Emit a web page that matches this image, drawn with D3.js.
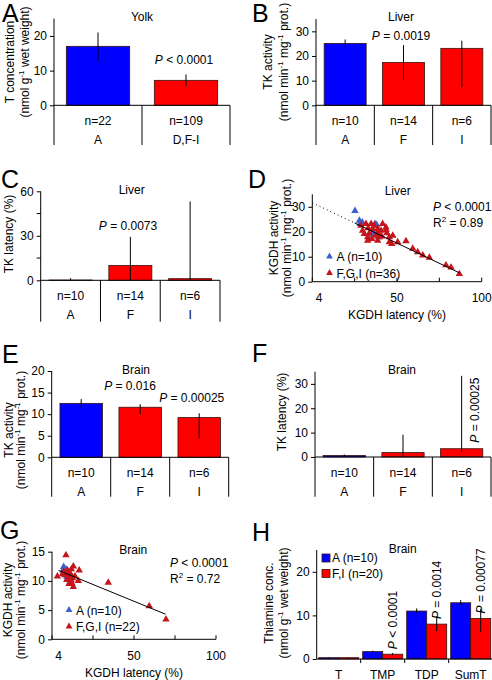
<!DOCTYPE html>
<html><head><meta charset="utf-8">
<script src="https://cdn.jsdelivr.net/npm/d3@7"></script>
<style>body{margin:0;background:#fff}svg{display:block}text{font-family:"Liberation Sans",Arial,sans-serif;fill:#000}</style>
</head><body>
<script>
// ---------- DATA ----------
// A: Yolk thiamine
const yolkCats = ["A", "D,F-I"];
const yolkN = ["n=22", "n=109"];
const yolkMean = [17.0, 7.2];
const yolkLo = [12.8, 5.6];
const yolkHi = [21.0, 8.9];
const yolkTicks = [0, 10, 20];

// B: Liver TK activity
const tkCats = ["A", "F", "I"];
const tkN = ["n=10", "n=14", "n=6"];
const liverTkMean = [25.1, 17.4, 23.1];
const liverTkLo = [23.5, 10.2, 7.3];
const liverTkHi = [26.7, 24.4, 26.2];
const liverTkTicks = [0, 10, 20, 30];

// C: Liver TK latency
const liverLatMean = [0.2, 10.0, 1.1];
const liverLatLo = [0, 0, 0];
const liverLatHi = [1.4, 29.3, 53.2];
const liverLatTicks = [0, 30, 60];
const liverLatMinor = [15, 45];

// D: Liver KGDH activity vs latency
const liverA = [[25.2,28.4],[27.8,24.5],[28.2,23.2],[29.5,23.8],[37,23.2],[38,22.8],[36,19.8],[39,17.9],[38,19.2],[35,19.0]];
const liverFGI = [[28.7,22.5],[31.7,23.2],[29.7,20.5],[34.7,23.2],[35.6,21.2],[32.7,17.9],[35.2,17.2],[37.6,18.5],[38.6,19.8],[41.5,23.2],[43.5,21.8],[40.6,20.5],[39.6,17.9],[43.5,20.8],[45.5,17.9],[47.5,18.5],[45.5,15.9],[46.9,15.2],[50.4,15.9],[55.3,16.3],[59.3,13.3],[62.2,11.9],[65.2,10.6],[69.1,9.7],[78.9,6.6],[81.9,5.7],[86.8,3.1],[30.7,19.2],[36.6,22.5],[38.6,21.2],[33.6,19.4],[38.6,16.5],[32.7,16.5],[44,19.5],[33,21.5],[41,18.2]];
const liverFit = [31.6, -0.323];          // intercept, slope
const liverFitX = [0, 25, 87];            // dotted from, solid from, to
const liverYTicks = [0, 10, 20, 30];

// E: Brain TK activity
const brainTkMean = [12.5, 11.6, 9.2];
const brainTkLo = [11.5, 10.0, 4.4];
const brainTkHi = [13.5, 12.3, 10.2];
const brainTkTicks = [0, 5, 10, 15, 20];

// F: Brain TK latency
const brainLatMean = [0.6, 1.8, 3.4];
const brainLatLo = [0.3, 0, 2.0];
const brainLatHi = [1.0, 9.2, 33.3];
const brainLatTicks = [0, 10, 20, 30];

// G: Brain KGDH activity vs latency
const brainA = [[7.1,12.4],[6.7,11.8],[8.1,11.4],[9.1,10.7],[10.1,10.2],[11.1,9.8],[8.5,12.0],[9.5,11.0],[7.5,11.1],[10.5,10.6]];
const brainFGI = [[8.5,14.4],[3.3,10.8],[13,12.5],[16.6,11.8],[16,10.0],[13,9.0],[34.3,9.7],[59.3,5.7],[69.5,3.4],[7.1,11.6],[8.1,11.0],[10.1,10.7],[11.1,11.3],[11.5,10.2],[11.8,12.0],[10.4,9.5],[12.5,10.5],[9.5,11.8],[14,10.8],[6.5,11.2],[12.2,9.6],[9,10.2]];
const brainFit = [12.26, -0.115];
const brainFitX = [4, 69.3];
const brainYTicks = [0, 5, 10, 15];

const latTickMarks = [0, 25, 50, 75, 100];
const latTickLabels = [4, 50, 100];

// H: Brain thiamine
const thCats = ["T", "TMP", "TDP", "SumT"];
const thA = [0.3, 1.7, 11.0, 12.9];
const thALo = [0.25, 1.55, 10.5, 12.4];
const thAHi = [0.35, 1.9, 11.6, 13.5];
const thFI = [0.3, 1.1, 8.0, 9.3];
const thFILo = [0.25, 0.8, 6.4, 6.2];
const thFIHi = [0.35, 1.4, 9.8, 11.5];
const thP = ["", "< 0.0001", "= 0.0014", "= 0.00077"];
const thTicks = [0, 10, 20];

// ---------- STYLE ----------
const BLUE = "#0000ff", RED = "#ff0000";
const TRI_BLUE = "#3a5fd0", TRI_RED = "#c4141c";
const FS = 12;

const svg = d3.select("body").append("svg").attr("width", 492).attr("height", 680);

function txt(g, x, y, s, opts = {}) {
  const t = g.append("text").attr("x", x).attr("y", y).attr("font-size", opts.size || FS)
    .attr("text-anchor", opts.anchor || "middle");
  if (opts.rot) t.attr("transform", `rotate(-90,${x},${y})`);
  return t.text(s);
}
// text with italic P
function ptext(g, x, y, rest, opts = {}) {
  const t = g.append("text").attr("x", x).attr("y", y).attr("font-size", FS)
    .attr("text-anchor", opts.anchor || "middle");
  if (opts.rot) t.attr("transform", `rotate(-90,${x},${y})`);
  t.append("tspan").attr("font-style", "italic").text("P");
  t.append("tspan").text(" " + rest);
  return t;
}
// rotated y-label with superscripts: parts = [[text, sup?],...]
function richText(g, x, y, parts, rot) {
  const t = g.append("text").attr("x", x).attr("y", y).attr("font-size", FS).attr("text-anchor", "middle");
  if (rot) t.attr("transform", `rotate(-90,${x},${y})`);
  let up = false;
  parts.forEach(p => {
    const sp = t.append("tspan").text(p[0]);
    if (p[1]) { sp.attr("font-size", 8).attr("dy", -5); up = true; }
    else if (up) { sp.attr("dy", 5); up = false; }
  });
  return t;
}
function letter(x, y, s) {
  svg.append("text").attr("x", x).attr("y", y).attr("font-size", 25).text(s);
}

function yAxis(g, y, x0, ticks, yEnd) {
  const ax = d3.axisLeft(y).tickValues(ticks).tickSize(4).tickPadding(3).tickFormat(d3.format("d"));
  const ag = g.append("g").attr("transform", `translate(${x0},0)`).call(ax);
  ag.select(".domain").remove();
  ag.selectAll("text").attr("font-size", FS).attr("font-family", "Liberation Sans, Arial, sans-serif");
  ag.selectAll("line").attr("stroke", "#000");
  g.append("line").attr("x1", x0).attr("x2", x0).attr("y1", y.range()[1]).attr("y2", yEnd).attr("stroke", "#000");
}

function barPanel(c) {
  const g = svg.append("g");
  const y = d3.scaleLinear().domain([0, c.max]).range([c.yBase, c.yTop]);
  const x = d3.scaleBand().domain(c.cats).range([c.x0, c.x1]).padding(0);
  const bw = x.bandwidth();
  yAxis(g, y, c.x0, c.ticks, c.tableBottom);
  if (c.minor) g.selectAll(".mn").data(c.minor).join("line")
    .attr("x1", c.x0 - 4).attr("x2", c.x0).attr("y1", d => y(d)).attr("y2", d => y(d)).attr("stroke", "#000");
  g.selectAll(".bar").data(c.cats).join("rect")
    .attr("x", d => x(d) + bw * 0.14).attr("width", bw * 0.72)
    .attr("y", (d, i) => y(c.mean[i])).attr("height", (d, i) => y(0) - y(c.mean[i]))
    .attr("fill", (d, i) => c.colors[i]).attr("stroke", "#3a1010").attr("stroke-width", 0.8);
  g.selectAll(".err").data(c.cats).join("line")
    .attr("x1", d => x(d) + bw / 2).attr("x2", d => x(d) + bw / 2)
    .attr("y1", (d, i) => y(c.lo[i])).attr("y2", (d, i) => y(c.hi[i])).attr("stroke", "#000");
  g.append("line").attr("x1", c.x0).attr("x2", c.x1).attr("y1", y(0)).attr("y2", y(0)).attr("stroke", "#000");
  c.cats.forEach((d, i) => {
    g.append("line").attr("x1", x(d) + bw).attr("x2", x(d) + bw).attr("y1", y(0)).attr("y2", c.tableBottom).attr("stroke", "#000");
    txt(g, x(d) + bw / 2, c.yBase + 19.5, c.ns[i]);
    txt(g, x(d) + bw / 2, c.yBase + 38.5, d);
  });
  return { g, x, y, bw };
}

function scatterPanel(c) {
  const g = svg.append("g");
  const x = d3.scaleLinear().domain([0, 100]).range([c.x0, c.x1]);
  const y = d3.scaleLinear().domain([0, c.max]).range([c.yBase, c.yTop]);
  yAxis(g, y, c.x0, c.yTicks, c.yBase);
  g.append("line").attr("x1", c.x0).attr("x2", c.x1).attr("y1", c.yBase).attr("y2", c.yBase).attr("stroke", "#000");
  g.selectAll(".xt").data(latTickMarks).join("line")
    .attr("x1", d => x(d)).attr("x2", d => x(d)).attr("y1", c.yBase).attr("y2", c.yBase - 4).attr("stroke", "#000");
  latTickLabels.forEach(v => txt(g, x(v), c.yBase + 20.5, String(v)));
  const fy = v => c.fit[0] + c.fit[1] * v;
  const tri = d3.symbol().type(d3.symbolTriangle).size(24);
  const plot = (pts, col) => g.selectAll(null).data(pts).join("path")
    .attr("d", tri).attr("fill", col)
    .attr("transform", d => `translate(${x(d[0])},${y(d[1])})`);
  plot(c.a, TRI_BLUE);
  plot(c.fgi, TRI_RED);
  if (c.fitX.length === 3) {
    g.append("line").attr("x1", x(c.fitX[0])).attr("y1", y(fy(c.fitX[0])))
      .attr("x2", x(c.fitX[1])).attr("y2", y(fy(c.fitX[1]))).attr("stroke", "#000").attr("stroke-dasharray", "1,3");
    g.append("line").attr("x1", x(c.fitX[1])).attr("y1", y(fy(c.fitX[1])))
      .attr("x2", x(c.fitX[2])).attr("y2", y(fy(c.fitX[2]))).attr("stroke", "#000");
  } else {
    g.append("line").attr("x1", x(c.fitX[0])).attr("y1", y(fy(c.fitX[0])))
      .attr("x2", x(c.fitX[1])).attr("y2", y(fy(c.fitX[1]))).attr("stroke", "#000");
  }
  // legend
  const lt = d3.symbol().type(d3.symbolTriangle).size(20);
  g.append("path").attr("d", lt).attr("fill", TRI_BLUE).attr("transform", `translate(${c.legX},${c.legY})`);
  g.append("path").attr("d", lt).attr("fill", TRI_RED).attr("transform", `translate(${c.legX},${c.legY + 16.5})`);
  txt(g, c.legX + 7, c.legY + 4.5, c.legA, { anchor: "start" });
  txt(g, c.legX + 7, c.legY + 21, c.legB, { anchor: "start" });
  ptext(g, c.statX, c.statY, "< 0.0001", { anchor: "start" });
  const r = g.append("text").attr("x", c.statX).attr("y", c.statY + 15.5).attr("font-size", FS);
  r.append("tspan").text("R");
  r.append("tspan").attr("font-size", 8).attr("dy", -5).text("2");
  r.append("tspan").attr("dy", 5).text(" = " + c.r2);
  txt(g, (c.x0 + c.x1) / 2, c.yBase + 37.5, "KGDH latency (%)");
  return g;
}

// ---------- PANEL A ----------
letter(2, 22, "A");
const pA = barPanel({ x0: 54, x1: 230, yTop: 18.6, yBase: 105.3, tableBottom: 145, max: 25, ticks: yolkTicks,
  cats: yolkCats, ns: yolkN, mean: yolkMean, lo: yolkLo, hi: yolkHi, colors: [BLUE, RED] });
txt(svg, 142, 21, "Yolk");
ptext(svg, 184, 64, "< 0.0001");
txt(svg, 14, 62, "T concentration", { rot: true });
richText(svg, 29, 62, [["(nmol g"], ["-1", 1], [" wet weight)"]], true);

// ---------- PANEL B ----------
letter(252, 22, "B");
barPanel({ x0: 316, x1: 491, yTop: 19, yBase: 105.3, tableBottom: 145, max: 35, ticks: liverTkTicks,
  cats: tkCats, ns: tkN, mean: liverTkMean, lo: liverTkLo, hi: liverTkHi, colors: [BLUE, RED, RED] });
txt(svg, 401, 21, "Liver");
ptext(svg, 401, 40, "= 0.0019");
txt(svg, 272, 62, "TK activity", { rot: true });
richText(svg, 288, 62, [["(nmol min"], ["-1", 1], [" mg"], ["-1", 1], [" prot.)"]], true);

// ---------- PANEL C ----------
letter(1, 188, "C");
barPanel({ x0: 40.7, x1: 220, yTop: 191.3, yBase: 280.3, tableBottom: 321.7, max: 60, ticks: liverLatTicks,
  minor: liverLatMinor, cats: tkCats, ns: tkN, mean: liverLatMean, lo: liverLatLo, hi: liverLatHi, colors: [BLUE, RED, RED] });
txt(svg, 131.7, 194, "Liver");
ptext(svg, 128, 230, "= 0.0073");
txt(svg, 12.5, 234, "TK latency (%)", { rot: true });

// ---------- PANEL D ----------
letter(248, 188, "D");
scatterPanel({ x0: 312.3, x1: 481.7, yTop: 194.3, yBase: 281.7, max: 35, yTicks: liverYTicks,
  a: liverA, fgi: liverFGI, fit: liverFit, fitX: liverFitX,
  legX: 329.5, legY: 256.5, legA: "A (n=10)", legB: "F,G,I (n=36)", statX: 433, statY: 211, r2: "0.89" });
txt(svg, 397.7, 195, "Liver");
txt(svg, 277.5, 238, "KGDH activity", { rot: true });
richText(svg, 291, 238, [["(nmol min"], ["-1", 1], [" mg"], ["-1", 1], [" prot.)"]], true);

// ---------- PANEL E ----------
letter(2, 363, "E");
barPanel({ x0: 51.7, x1: 228.7, yTop: 371, yBase: 457.3, tableBottom: 496.7, max: 20, ticks: brainTkTicks,
  cats: tkCats, ns: tkN, mean: brainTkMean, lo: brainTkLo, hi: brainTkHi, colors: [BLUE, RED, RED] });
txt(svg, 136, 373.5, "Brain");
ptext(svg, 130, 390, "= 0.016");
ptext(svg, 191.7, 401.5, "= 0.00025");
txt(svg, 12.5, 430, "TK activity", { rot: true });
richText(svg, 25, 430, [["(nmol min"], ["-1", 1], [" mg"], ["-1", 1], [" prot.)"]], true);

// ---------- PANEL F ----------
letter(252, 362, "F");
const pF = barPanel({ x0: 315, x1: 491, yTop: 371.7, yBase: 457, tableBottom: 496.7, max: 35, ticks: brainLatTicks,
  cats: tkCats, ns: tkN, mean: brainLatMean, lo: brainLatLo, hi: brainLatHi, colors: [BLUE, RED, RED] });
txt(svg, 402, 373.5, "Brain");
ptext(svg, pF.x("I") + pF.bw / 2 + 17, pF.y(brainLatMean[2]) - 6, "= 0.00025", { rot: true, anchor: "start" });
txt(svg, 285.5, 412, "TK latency (%)", { rot: true });

// ---------- PANEL G ----------
letter(0, 539, "G");
scatterPanel({ x0: 52, x1: 216, yTop: 551.7, yBase: 639.3, max: 15, yTicks: brainYTicks,
  a: brainA, fgi: brainFGI, fit: brainFit, fitX: brainFitX,
  legX: 69, legY: 610, legA: "A (n=10)", legB: "F,G,I (n=22)", statX: 170, statY: 567, r2: "0.72" });
txt(svg, 133.3, 553.5, "Brain");
txt(svg, 11.5, 600, "KGDH activity", { rot: true });
richText(svg, 25, 600, [["(nmol min"], ["-1", 1], [" mg"], ["-1", 1], [" prot.)"]], true);

// ---------- PANEL H ----------
letter(252, 541, "H");
(function () {
  const g = svg.append("g");
  const x0 = 316.7, x1 = 492.7, yTop = 550, yBase = 659;
  const y = d3.scaleLinear().domain([0, 25]).range([yBase, yTop]);
  const x = d3.scaleBand().domain(thCats).range([x0, x1]).padding(0);
  const sub = d3.scaleBand().domain(["A", "FI"]).range([0, x.bandwidth()]).paddingInner(0).paddingOuter(0.1);
  yAxis(g, y, x0, thTicks, yBase);
  const series = [
    { k: "A", v: thA, lo: thALo, hi: thAHi, col: BLUE },
    { k: "FI", v: thFI, lo: thFILo, hi: thFIHi, col: RED }
  ];
  series.forEach(s => {
    g.selectAll(null).data(thCats).join("rect")
      .attr("x", d => x(d) + sub(s.k)).attr("width", sub.bandwidth())
      .attr("y", (d, i) => y(s.v[i])).attr("height", (d, i) => y(0) - y(s.v[i]))
      .attr("fill", s.col).attr("stroke", "#3a1010").attr("stroke-width", 0.8);
    g.selectAll(null).data(thCats).join("line")
      .attr("x1", d => x(d) + sub(s.k) + sub.bandwidth() / 2).attr("x2", d => x(d) + sub(s.k) + sub.bandwidth() / 2)
      .attr("y1", (d, i) => y(s.lo[i])).attr("y2", (d, i) => y(s.hi[i])).attr("stroke", "#000");
  });
  g.append("line").attr("x1", x0).attr("x2", x1).attr("y1", yBase).attr("y2", yBase).attr("stroke", "#000");
  thCats.forEach((d, i) => {
    g.append("line").attr("x1", x(d) + x.bandwidth()).attr("x2", x(d) + x.bandwidth())
      .attr("y1", yBase).attr("y2", yBase + 4).attr("stroke", "#000");
    txt(g, x(d) + x.bandwidth() / 2, 678.5, d);
    if (thP[i]) {
      const cx = x(d) + sub("FI") + sub.bandwidth() / 2;
      ptext(g, cx + 4.3, y(thFI[i]) - 5, thP[i], { rot: true, anchor: "start" });
    }
  });
  // legend
  [["A (n=10)", BLUE], ["F,I (n=20)", RED]].forEach((l, i) => {
    g.append("rect").attr("x", 322).attr("y", 554 + i * 15.5).attr("width", 8).attr("height", 8)
      .attr("fill", l[1]).attr("stroke", "#3a1010").attr("stroke-width", 0.8);
    txt(g, 332, 562 + i * 15.5, l[0], { anchor: "start" });
  });
  txt(g, 402.7, 552.5, "Brain");
  txt(g, 272.5, 603, "Thiamine conc.", { rot: true });
  richText(g, 288, 603, [["(nmol g"], ["-1", 1], [" wet weight)"]], true);
})();
</script>
</body></html>
